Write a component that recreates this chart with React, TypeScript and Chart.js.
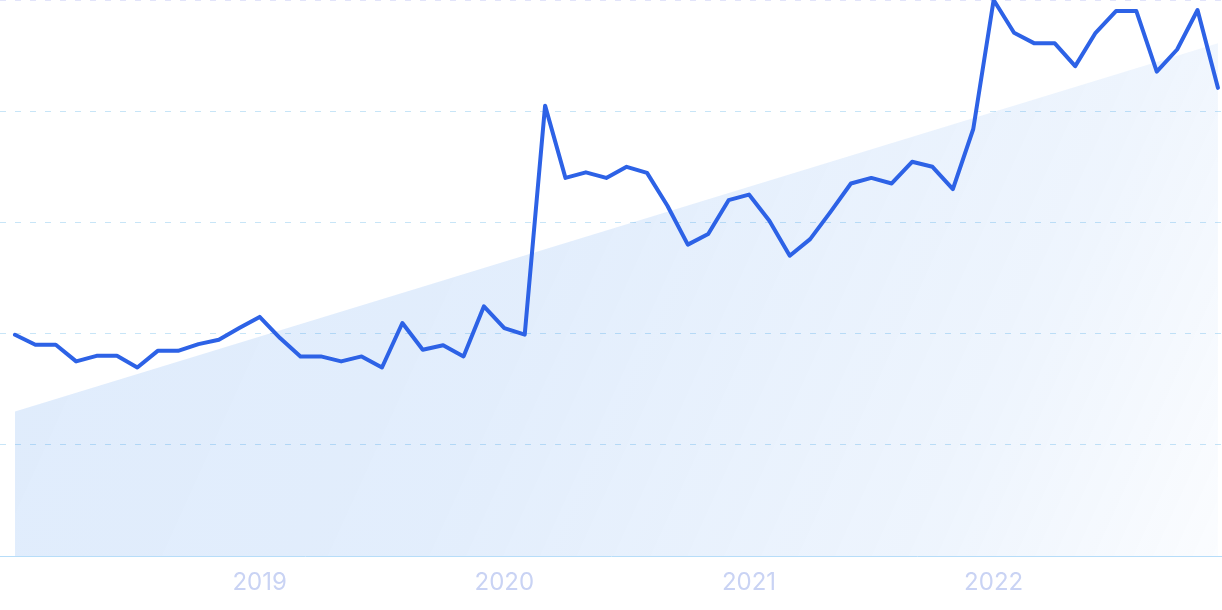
import React, { useEffect, useRef } from 'react';
import { Chart, registerables } from 'chart.js';

Chart.register(...registerables);

// Monthly values, Jan 2018 .. Dec 2022 (index 0..59)
const monthValues: number[] = [
  39.8, 38.0, 38.0, 35.0, 36.0, 36.0, 33.9, 36.9, 36.9, 38.1, 38.9, 41.0,
  43.0, 39.2, 35.9, 35.9, 35.0, 35.9, 33.9, 41.9, 37.1, 37.9, 35.9, 44.9,
  41.0, 39.8, 81.0, 68.0, 69.0, 68.0, 70.0, 68.9, 63.0, 56.0, 57.9, 64.0,
  65.0, 60.3, 54.0, 57.0, 61.9, 67.0, 68.0, 67.0, 70.9, 70.0, 66.0, 76.8,
  100, 94.1, 92.2, 92.2, 88.1, 94.1, 98.0, 98.0, 87.1, 91.1, 98.2, 84.2,
];

// Trend line (start / end values)
const trendIndex: number[] = [0, 59];
const trendValues: number[] = [26.0, 92.2];

// Year tick labels and their month index
const yearTickIndex: number[] = [12, 24, 36, 48];
const yearLabels: string[] = ['2019', '2020', '2021', '2022'];

export default function App() {
  const canvasRef = useRef<HTMLCanvasElement | null>(null);

  useEffect(() => {
    const canvas = canvasRef.current;
    if (!canvas) return;

    const fillGradient = (context: any) => {
      const chart = context.chart;
      const area = chart.chartArea;
      if (!area) return 'rgba(40,125,235,0.12)';
      const g = chart.ctx.createLinearGradient(area.left, area.top, area.right, area.bottom);
      g.addColorStop(0, 'rgba(40,125,235,0.15)');
      g.addColorStop(0.45, 'rgba(40,125,235,0.135)');
      g.addColorStop(0.8, 'rgba(40,125,235,0.08)');
      g.addColorStop(1, 'rgba(40,125,235,0.02)');
      return g;
    };

    const chart = new Chart(canvas, {
      type: 'line',
      data: {
        datasets: [
          {
            label: 'value',
            data: monthValues.map((v, i) => ({ x: i, y: v })),
            borderColor: '#2d62e6',
            borderWidth: 4,
            pointRadius: 0,
            pointHoverRadius: 0,
            tension: 0,
            fill: false,
            order: 1,
            borderJoinStyle: 'round',
            borderCapStyle: 'round',
          },
          {
            label: 'trend',
            data: trendIndex.map((x, i) => ({ x, y: trendValues[i] })),
            borderWidth: 0,
            borderColor: 'rgba(0,0,0,0)',
            pointRadius: 0,
            pointHoverRadius: 0,
            tension: 0,
            fill: 'origin',
            backgroundColor: fillGradient,
            order: 2,
          },
        ],
      },
      options: {
        animation: false,
        responsive: false,
        maintainAspectRatio: false,
        layout: { padding: { top: 0, left: 0, right: 0, bottom: 0 } },
        plugins: {
          legend: { display: false },
          tooltip: { enabled: false },
        },
        scales: {
          x: {
            type: 'linear',
            min: -0.735,
            max: 59.2,
            grid: { display: false, drawTicks: false },
            border: { display: true, color: '#b7ddf9', width: 1 },
            afterBuildTicks: (scale: any) => {
              scale.ticks = yearTickIndex.map((v) => ({ value: v }));
            },
            ticks: {
              autoSkip: false,
              maxRotation: 0,
              minRotation: 0,
              padding: 15,
              color: '#c9d3f4',
              font: { family: 'Inter', size: 24, lineHeight: 1.0 },
              callback: (value: any) => {
                const k = yearTickIndex.indexOf(Number(value));
                return k >= 0 ? yearLabels[k] : '';
              },
            },
          },
          y: {
            min: 0,
            max: 100,
            ticks: { display: false, stepSize: 20 },
            grid: {
              drawTicks: false,
              lineWidth: 1,
              color: (ctx: any) => {
                const v = ctx.tick ? ctx.tick.value : null;
                if (v === 0) return 'rgba(0,0,0,0)';
                if (v === 100) return '#e2e4fa';
                return '#c8e5f7';
              },
            },
            border: { display: false, dash: [6, 9] },
          },
        },
      },
    });

    return () => chart.destroy();
  }, []);

  return (
    <div style={{ position: 'fixed', left: 0, top: 0, width: 1222, height: 610, background: '#ffffff' }}>
      <canvas ref={canvasRef} width={1222} height={610} style={{ display: 'block' }} />
    </div>
  );
}
